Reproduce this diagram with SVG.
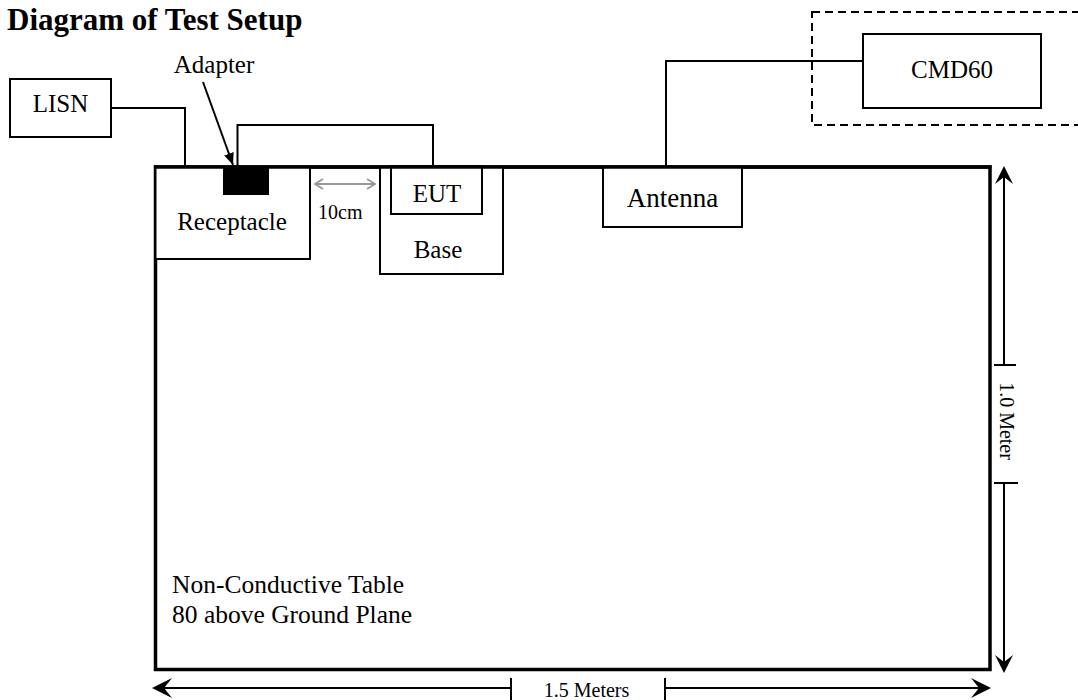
<svg xmlns="http://www.w3.org/2000/svg" width="1078" height="700" viewBox="0 0 1078 700">
<style>
text{font-family:"Liberation Serif","Times New Roman",serif;fill:#000}
.box{fill:#fff;stroke:#000;stroke-width:2}
.w{fill:none;stroke:#000;stroke-width:2}
.lbl{font-size:25px;text-anchor:middle}
.dim{fill:none;stroke:#000;stroke-width:2}
.head{fill:#000;stroke:none}
</style>
<defs>
<marker id="adArrow" viewBox="0 0 12 10" refX="12" refY="5" markerWidth="12" markerHeight="10" markerUnits="userSpaceOnUse" orient="auto">
<path d="M0,0 L12,5 L0,10 Z" fill="#000"/>
</marker>
<marker id="grayArrow" viewBox="0 0 10 12" refX="9" refY="6" markerWidth="10" markerHeight="12" markerUnits="userSpaceOnUse" orient="auto-start-reverse">
<path d="M1,1 L9,6 L1,11" fill="none" stroke="#999" stroke-width="2"/>
</marker>
</defs>
<rect width="1078" height="700" fill="#fff"/>
<text x="7" y="30" style="font-size:31px;font-weight:bold">Diagram of Test Setup</text>

<g id="cmd60-enclosure">
<rect x="812" y="12" width="280" height="113" fill="none" stroke="#000" stroke-width="2" stroke-dasharray="8,5"/>
</g>

<g id="table">
<rect x="155.5" y="167" width="834.5" height="502.5" fill="#fff" stroke="#000" stroke-width="3.5"/>
<text x="172" y="593" style="font-size:25.5px">Non-Conductive Table</text>
<text x="172" y="623" style="font-size:25.5px">80 above Ground Plane</text>
</g>

<g id="connectors">
<polyline class="w" points="111,108 185,108 185,167"/>
<polyline class="w" points="237.5,167 237.5,125 433,125 433,167"/>
<polyline class="w" points="666,167 666,61 863,61"/>
<line x1="203" y1="82" x2="233" y2="165" stroke="#000" stroke-width="2" marker-end="url(#adArrow)"/>
<line x1="315" y1="184" x2="375" y2="184" stroke="#999" stroke-width="2" marker-start="url(#grayArrow)" marker-end="url(#grayArrow)"/>
</g>

<g id="lisn">
<rect class="box" x="10" y="79" width="101" height="58"/>
<text class="lbl" x="60.5" y="112">LISN</text>
</g>

<g id="receptacle">
<rect class="box" x="155.5" y="167" width="154.5" height="92"/>
<text class="lbl" x="232" y="230">Receptacle</text>
</g>

<g id="adapter">
<rect x="223" y="167" width="46" height="28" fill="#000"/>
<text class="lbl" x="214" y="73">Adapter</text>
</g>

<g id="spacing-label">
<text x="318" y="219" style="font-size:20px">10cm</text>
</g>

<g id="base">
<rect class="box" x="380" y="167" width="123" height="107"/>
<text class="lbl" x="438" y="258">Base</text>
</g>

<g id="eut">
<rect class="box" x="391" y="166" width="91" height="48"/>
<text class="lbl" x="437" y="202">EUT</text>
</g>

<g id="antenna">
<rect class="box" x="603" y="167" width="139" height="60"/>
<text x="672.5" y="207" style="font-size:27px;text-anchor:middle">Antenna</text>
</g>

<g id="cmd60">
<rect class="box" x="863" y="34" width="178" height="74"/>
<text class="lbl" x="952" y="78">CMD60</text>
</g>

<g id="table-outline-top">
<line x1="154" y1="167" x2="991.5" y2="167" stroke="#000" stroke-width="3.5"/>
</g>

<g id="dim-vertical">
<line class="dim" x1="1004" y1="172" x2="1004" y2="365"/>
<line class="dim" x1="994" y1="365" x2="1016" y2="365"/>
<line class="dim" x1="994" y1="483" x2="1018" y2="483"/>
<line class="dim" x1="1004" y1="483" x2="1004" y2="667"/>
<path class="head" d="M1004,166 L1013,184 L1004,177 L995,184 Z"/>
<path class="head" d="M1004,673 L1013,655 L1004,662 L995,655 Z"/>
<text transform="translate(1000,421) rotate(90)" style="font-size:20px;text-anchor:middle">1.0 Meter</text>
</g>

<g id="dim-horizontal">
<line class="dim" x1="158" y1="688" x2="511" y2="688"/>
<line class="dim" x1="511" y1="678" x2="511" y2="700"/>
<line class="dim" x1="665" y1="678" x2="665" y2="700"/>
<line class="dim" x1="665" y1="688" x2="985" y2="688"/>
<path class="head" d="M152,688 L172,678 L164,688 L172,698 Z"/>
<path class="head" d="M991,688 L971,678 L979,688 L971,698 Z"/>
<text x="586.5" y="697" style="font-size:20px;text-anchor:middle">1.5 Meters</text>
</g>
</svg>
